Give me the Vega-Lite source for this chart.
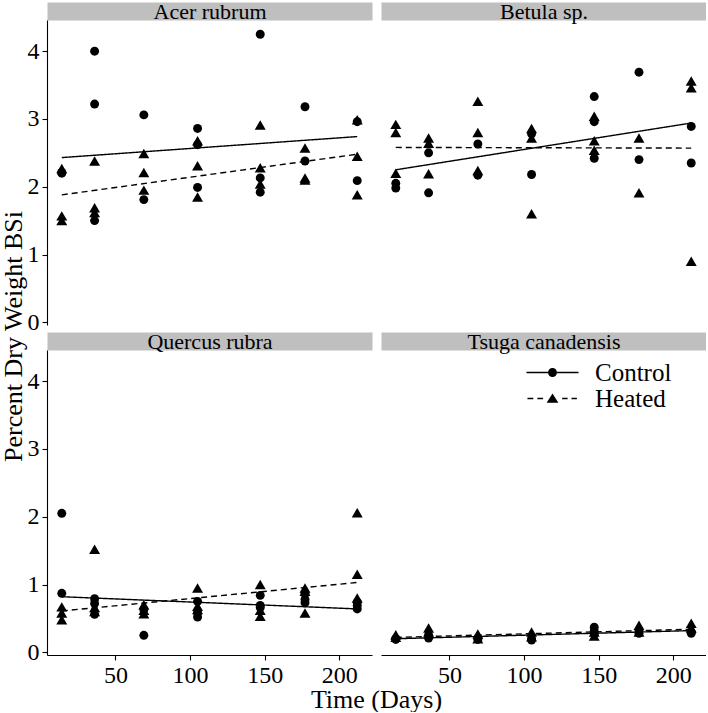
{
  "$schema": "https://vega.github.io/schema/vega-lite/v6.json",
  "background": "white",
  "padding": {"left": 0, "top": 0, "right": 0, "bottom": 0},
  "config": {
    "font": "Liberation Serif",
    "view": {"stroke": null},
    "axis": {
      "grid": false,
      "domainColor": "black",
      "domainWidth": 1.1,
      "tickColor": "black",
      "tickWidth": 1.1,
      "tickSize": 5,
      "labelColor": "black",
      "labelFont": "Liberation Serif",
      "labelFontSize": 24,
      "labelPadding": 3,
      "titleFont": "Liberation Serif",
      "titleFontWeight": "normal",
      "titleColor": "black"
    }
  },
  "datasets": {
    "fits": [
      {"species": "Acer rubrum", "treatment": "Control", "day": 14, "bsi": 2.43},
      {"species": "Acer rubrum", "treatment": "Control", "day": 212, "bsi": 2.74},
      {"species": "Acer rubrum", "treatment": "Heated", "day": 14, "bsi": 1.88},
      {"species": "Acer rubrum", "treatment": "Heated", "day": 212, "bsi": 2.48},
      {"species": "Betula sp.", "treatment": "Control", "day": 14, "bsi": 2.25},
      {"species": "Betula sp.", "treatment": "Control", "day": 212, "bsi": 2.94},
      {"species": "Betula sp.", "treatment": "Heated", "day": 14, "bsi": 2.58},
      {"species": "Betula sp.", "treatment": "Heated", "day": 212, "bsi": 2.57},
      {"species": "Quercus rubra", "treatment": "Control", "day": 14, "bsi": 0.82},
      {"species": "Quercus rubra", "treatment": "Control", "day": 212, "bsi": 0.64},
      {"species": "Quercus rubra", "treatment": "Heated", "day": 14, "bsi": 0.61},
      {"species": "Quercus rubra", "treatment": "Heated", "day": 212, "bsi": 1.03},
      {"species": "Tsuga canadensis", "treatment": "Control", "day": 14, "bsi": 0.2},
      {"species": "Tsuga canadensis", "treatment": "Control", "day": 212, "bsi": 0.32},
      {"species": "Tsuga canadensis", "treatment": "Heated", "day": 14, "bsi": 0.22},
      {"species": "Tsuga canadensis", "treatment": "Heated", "day": 212, "bsi": 0.34}
    ],
    "bsi": [
      {"species": "Acer rubrum", "day": 14, "treatment": "Control", "bsi": 2.21},
      {"species": "Acer rubrum", "day": 14, "treatment": "Control", "bsi": 2.2},
      {"species": "Acer rubrum", "day": 14, "treatment": "Heated", "bsi": 2.27},
      {"species": "Acer rubrum", "day": 14, "treatment": "Heated", "bsi": 1.57},
      {"species": "Acer rubrum", "day": 14, "treatment": "Heated", "bsi": 1.5},
      {"species": "Acer rubrum", "day": 36, "treatment": "Control", "bsi": 4.0},
      {"species": "Acer rubrum", "day": 36, "treatment": "Control", "bsi": 3.22},
      {"species": "Acer rubrum", "day": 36, "treatment": "Control", "bsi": 1.5},
      {"species": "Acer rubrum", "day": 36, "treatment": "Heated", "bsi": 2.38},
      {"species": "Acer rubrum", "day": 36, "treatment": "Heated", "bsi": 1.69},
      {"species": "Acer rubrum", "day": 36, "treatment": "Heated", "bsi": 1.62},
      {"species": "Acer rubrum", "day": 69, "treatment": "Control", "bsi": 3.06},
      {"species": "Acer rubrum", "day": 69, "treatment": "Control", "bsi": 1.81},
      {"species": "Acer rubrum", "day": 69, "treatment": "Heated", "bsi": 2.49},
      {"species": "Acer rubrum", "day": 69, "treatment": "Heated", "bsi": 2.21},
      {"species": "Acer rubrum", "day": 69, "treatment": "Heated", "bsi": 1.95},
      {"species": "Acer rubrum", "day": 105, "treatment": "Control", "bsi": 2.86},
      {"species": "Acer rubrum", "day": 105, "treatment": "Control", "bsi": 2.62},
      {"species": "Acer rubrum", "day": 105, "treatment": "Control", "bsi": 1.99},
      {"species": "Acer rubrum", "day": 105, "treatment": "Heated", "bsi": 2.68},
      {"species": "Acer rubrum", "day": 105, "treatment": "Heated", "bsi": 2.31},
      {"species": "Acer rubrum", "day": 105, "treatment": "Heated", "bsi": 1.85},
      {"species": "Acer rubrum", "day": 147, "treatment": "Control", "bsi": 4.25},
      {"species": "Acer rubrum", "day": 147, "treatment": "Control", "bsi": 2.13},
      {"species": "Acer rubrum", "day": 147, "treatment": "Control", "bsi": 1.92},
      {"species": "Acer rubrum", "day": 147, "treatment": "Heated", "bsi": 2.91},
      {"species": "Acer rubrum", "day": 147, "treatment": "Heated", "bsi": 2.28},
      {"species": "Acer rubrum", "day": 147, "treatment": "Heated", "bsi": 2.04},
      {"species": "Acer rubrum", "day": 177, "treatment": "Control", "bsi": 3.18},
      {"species": "Acer rubrum", "day": 177, "treatment": "Control", "bsi": 2.38},
      {"species": "Acer rubrum", "day": 177, "treatment": "Heated", "bsi": 2.57},
      {"species": "Acer rubrum", "day": 177, "treatment": "Heated", "bsi": 2.13},
      {"species": "Acer rubrum", "day": 177, "treatment": "Heated", "bsi": 2.1},
      {"species": "Acer rubrum", "day": 212, "treatment": "Control", "bsi": 2.96},
      {"species": "Acer rubrum", "day": 212, "treatment": "Control", "bsi": 2.09},
      {"species": "Acer rubrum", "day": 212, "treatment": "Heated", "bsi": 2.99},
      {"species": "Acer rubrum", "day": 212, "treatment": "Heated", "bsi": 2.45},
      {"species": "Acer rubrum", "day": 212, "treatment": "Heated", "bsi": 1.88},

      {"species": "Betula sp.", "day": 14, "treatment": "Control", "bsi": 2.05},
      {"species": "Betula sp.", "day": 14, "treatment": "Control", "bsi": 1.98},
      {"species": "Betula sp.", "day": 14, "treatment": "Heated", "bsi": 2.92},
      {"species": "Betula sp.", "day": 14, "treatment": "Heated", "bsi": 2.8},
      {"species": "Betula sp.", "day": 14, "treatment": "Heated", "bsi": 2.2},
      {"species": "Betula sp.", "day": 36, "treatment": "Control", "bsi": 2.5},
      {"species": "Betula sp.", "day": 36, "treatment": "Control", "bsi": 1.91},
      {"species": "Betula sp.", "day": 36, "treatment": "Heated", "bsi": 2.72},
      {"species": "Betula sp.", "day": 36, "treatment": "Heated", "bsi": 2.64},
      {"species": "Betula sp.", "day": 36, "treatment": "Heated", "bsi": 2.19},
      {"species": "Betula sp.", "day": 69, "treatment": "Control", "bsi": 2.63},
      {"species": "Betula sp.", "day": 69, "treatment": "Control", "bsi": 2.17},
      {"species": "Betula sp.", "day": 69, "treatment": "Heated", "bsi": 3.26},
      {"species": "Betula sp.", "day": 69, "treatment": "Heated", "bsi": 2.8},
      {"species": "Betula sp.", "day": 69, "treatment": "Heated", "bsi": 2.24},
      {"species": "Betula sp.", "day": 105, "treatment": "Control", "bsi": 2.78},
      {"species": "Betula sp.", "day": 105, "treatment": "Control", "bsi": 2.18},
      {"species": "Betula sp.", "day": 105, "treatment": "Heated", "bsi": 2.86},
      {"species": "Betula sp.", "day": 105, "treatment": "Heated", "bsi": 2.72},
      {"species": "Betula sp.", "day": 105, "treatment": "Heated", "bsi": 1.6},
      {"species": "Betula sp.", "day": 147, "treatment": "Control", "bsi": 3.33},
      {"species": "Betula sp.", "day": 147, "treatment": "Control", "bsi": 2.96},
      {"species": "Betula sp.", "day": 147, "treatment": "Control", "bsi": 2.42},
      {"species": "Betula sp.", "day": 147, "treatment": "Heated", "bsi": 3.04},
      {"species": "Betula sp.", "day": 147, "treatment": "Heated", "bsi": 2.68},
      {"species": "Betula sp.", "day": 147, "treatment": "Heated", "bsi": 2.54},
      {"species": "Betula sp.", "day": 177, "treatment": "Control", "bsi": 3.69},
      {"species": "Betula sp.", "day": 177, "treatment": "Control", "bsi": 2.4},
      {"species": "Betula sp.", "day": 177, "treatment": "Heated", "bsi": 2.72},
      {"species": "Betula sp.", "day": 177, "treatment": "Heated", "bsi": 1.91},
      {"species": "Betula sp.", "day": 212, "treatment": "Control", "bsi": 2.89},
      {"species": "Betula sp.", "day": 212, "treatment": "Control", "bsi": 2.35},
      {"species": "Betula sp.", "day": 212, "treatment": "Heated", "bsi": 3.56},
      {"species": "Betula sp.", "day": 212, "treatment": "Heated", "bsi": 3.46},
      {"species": "Betula sp.", "day": 212, "treatment": "Heated", "bsi": 0.9},

      {"species": "Quercus rubra", "day": 14, "treatment": "Control", "bsi": 2.05},
      {"species": "Quercus rubra", "day": 14, "treatment": "Control", "bsi": 0.87},
      {"species": "Quercus rubra", "day": 14, "treatment": "Heated", "bsi": 0.67},
      {"species": "Quercus rubra", "day": 14, "treatment": "Heated", "bsi": 0.58},
      {"species": "Quercus rubra", "day": 14, "treatment": "Heated", "bsi": 0.48},
      {"species": "Quercus rubra", "day": 36, "treatment": "Control", "bsi": 0.79},
      {"species": "Quercus rubra", "day": 36, "treatment": "Control", "bsi": 0.72},
      {"species": "Quercus rubra", "day": 36, "treatment": "Control", "bsi": 0.56},
      {"species": "Quercus rubra", "day": 36, "treatment": "Heated", "bsi": 1.52},
      {"species": "Quercus rubra", "day": 36, "treatment": "Heated", "bsi": 0.66},
      {"species": "Quercus rubra", "day": 36, "treatment": "Heated", "bsi": 0.6},
      {"species": "Quercus rubra", "day": 69, "treatment": "Control", "bsi": 0.63},
      {"species": "Quercus rubra", "day": 69, "treatment": "Control", "bsi": 0.25},
      {"species": "Quercus rubra", "day": 69, "treatment": "Heated", "bsi": 0.7},
      {"species": "Quercus rubra", "day": 69, "treatment": "Heated", "bsi": 0.62},
      {"species": "Quercus rubra", "day": 69, "treatment": "Heated", "bsi": 0.57},
      {"species": "Quercus rubra", "day": 105, "treatment": "Control", "bsi": 0.75},
      {"species": "Quercus rubra", "day": 105, "treatment": "Control", "bsi": 0.58},
      {"species": "Quercus rubra", "day": 105, "treatment": "Control", "bsi": 0.52},
      {"species": "Quercus rubra", "day": 105, "treatment": "Heated", "bsi": 0.95},
      {"species": "Quercus rubra", "day": 105, "treatment": "Heated", "bsi": 0.68},
      {"species": "Quercus rubra", "day": 105, "treatment": "Heated", "bsi": 0.63},
      {"species": "Quercus rubra", "day": 147, "treatment": "Control", "bsi": 0.84},
      {"species": "Quercus rubra", "day": 147, "treatment": "Control", "bsi": 0.69},
      {"species": "Quercus rubra", "day": 147, "treatment": "Control", "bsi": 0.66},
      {"species": "Quercus rubra", "day": 147, "treatment": "Heated", "bsi": 1.0},
      {"species": "Quercus rubra", "day": 147, "treatment": "Heated", "bsi": 0.62},
      {"species": "Quercus rubra", "day": 147, "treatment": "Heated", "bsi": 0.53},
      {"species": "Quercus rubra", "day": 177, "treatment": "Control", "bsi": 0.87},
      {"species": "Quercus rubra", "day": 177, "treatment": "Control", "bsi": 0.78},
      {"species": "Quercus rubra", "day": 177, "treatment": "Control", "bsi": 0.73},
      {"species": "Quercus rubra", "day": 177, "treatment": "Heated", "bsi": 0.95},
      {"species": "Quercus rubra", "day": 177, "treatment": "Heated", "bsi": 0.9},
      {"species": "Quercus rubra", "day": 177, "treatment": "Heated", "bsi": 0.58},
      {"species": "Quercus rubra", "day": 212, "treatment": "Control", "bsi": 0.74},
      {"species": "Quercus rubra", "day": 212, "treatment": "Control", "bsi": 0.69},
      {"species": "Quercus rubra", "day": 212, "treatment": "Control", "bsi": 0.64},
      {"species": "Quercus rubra", "day": 212, "treatment": "Heated", "bsi": 2.06},
      {"species": "Quercus rubra", "day": 212, "treatment": "Heated", "bsi": 1.15},
      {"species": "Quercus rubra", "day": 212, "treatment": "Heated", "bsi": 0.8},

      {"species": "Tsuga canadensis", "day": 14, "treatment": "Control", "bsi": 0.2},
      {"species": "Tsuga canadensis", "day": 14, "treatment": "Control", "bsi": 0.19},
      {"species": "Tsuga canadensis", "day": 14, "treatment": "Heated", "bsi": 0.26},
      {"species": "Tsuga canadensis", "day": 14, "treatment": "Heated", "bsi": 0.22},
      {"species": "Tsuga canadensis", "day": 36, "treatment": "Control", "bsi": 0.21},
      {"species": "Tsuga canadensis", "day": 36, "treatment": "Control", "bsi": 0.25},
      {"species": "Tsuga canadensis", "day": 36, "treatment": "Heated", "bsi": 0.36},
      {"species": "Tsuga canadensis", "day": 36, "treatment": "Heated", "bsi": 0.3},
      {"species": "Tsuga canadensis", "day": 69, "treatment": "Control", "bsi": 0.21},
      {"species": "Tsuga canadensis", "day": 69, "treatment": "Control", "bsi": 0.19},
      {"species": "Tsuga canadensis", "day": 69, "treatment": "Heated", "bsi": 0.27},
      {"species": "Tsuga canadensis", "day": 69, "treatment": "Heated", "bsi": 0.2},
      {"species": "Tsuga canadensis", "day": 105, "treatment": "Control", "bsi": 0.2},
      {"species": "Tsuga canadensis", "day": 105, "treatment": "Control", "bsi": 0.18},
      {"species": "Tsuga canadensis", "day": 105, "treatment": "Heated", "bsi": 0.3},
      {"species": "Tsuga canadensis", "day": 105, "treatment": "Heated", "bsi": 0.23},
      {"species": "Tsuga canadensis", "day": 147, "treatment": "Control", "bsi": 0.37},
      {"species": "Tsuga canadensis", "day": 147, "treatment": "Control", "bsi": 0.31},
      {"species": "Tsuga canadensis", "day": 147, "treatment": "Control", "bsi": 0.27},
      {"species": "Tsuga canadensis", "day": 147, "treatment": "Heated", "bsi": 0.3},
      {"species": "Tsuga canadensis", "day": 147, "treatment": "Heated", "bsi": 0.24},
      {"species": "Tsuga canadensis", "day": 177, "treatment": "Control", "bsi": 0.32},
      {"species": "Tsuga canadensis", "day": 177, "treatment": "Control", "bsi": 0.28},
      {"species": "Tsuga canadensis", "day": 177, "treatment": "Heated", "bsi": 0.4},
      {"species": "Tsuga canadensis", "day": 177, "treatment": "Heated", "bsi": 0.3},
      {"species": "Tsuga canadensis", "day": 212, "treatment": "Control", "bsi": 0.3},
      {"species": "Tsuga canadensis", "day": 212, "treatment": "Control", "bsi": 0.28},
      {"species": "Tsuga canadensis", "day": 212, "treatment": "Heated", "bsi": 0.43},
      {"species": "Tsuga canadensis", "day": 212, "treatment": "Heated", "bsi": 0.36}
    ]
  },
  "columns": 2,
  "spacing": {"row": 25, "column": 9},
  "bounds": "flush",
  "concat": [
    {
      "width": 325, "height": 305,
      "resolve": {"axis": {"x": "independent"}},
      "layer": [
        {
          "data": {"name": "bsi"},
          "transform": [{"filter": "datum.species === 'Acer rubrum'"}],
          "mark": {"type": "point", "filled": true, "opacity": 1, "color": "black"},
          "encoding": {
            "x": {"field": "day", "type": "quantitative", "scale": {"domain": [4.1, 221.9], "nice": false, "zero": false}, "axis": null},
            "y": {"field": "bsi", "type": "quantitative", "scale": {"domain": [-0.04, 4.46], "nice": false, "zero": false},
                  "axis": {"values": [0, 1, 2, 3, 4], "format": "d", "title": "Percent Dry Weight BSi", "titleFontSize": 26, "titleBaseline": "alphabetic", "titleX": -26, "titleY": 316}},
            "shape": {"field": "treatment", "type": "nominal", "scale": {"domain": ["Control", "Heated"], "range": ["circle", "triangle-up"]}, "legend": null},
            "size": {"field": "treatment", "type": "ordinal", "scale": {"domain": ["Control", "Heated"], "range": [80, 120]}, "legend": null}
          }
        },
        {
          "data": {"name": "fits"},
          "transform": [{"filter": "datum.species === 'Acer rubrum'"}],
          "mark": {"type": "line", "color": "black", "strokeWidth": 1.4},
          "encoding": {
            "x": {"field": "day", "type": "quantitative",
                  "axis": {"orient": "top", "title": "Acer rubrum", "values": [100], "ticks": false, "labels": false, "domainColor": "#bfbfbf", "domainWidth": 18, "offset": 9, "titleFontSize": 22, "titleBaseline": "alphabetic", "titleY": 7.7}},
            "y": {"field": "bsi", "type": "quantitative"},
            "strokeDash": {"field": "treatment", "type": "nominal", "scale": {"domain": ["Control", "Heated"], "range": [[1, 0], [6, 4]]}, "legend": null}
          }
        }
      ]
    },
    {
      "width": 325, "height": 305,
      "resolve": {"axis": {"x": "independent"}},
      "layer": [
        {
          "data": {"name": "bsi"},
          "transform": [{"filter": "datum.species === 'Betula sp.'"}],
          "mark": {"type": "point", "filled": true, "opacity": 1, "color": "black"},
          "encoding": {
            "x": {"field": "day", "type": "quantitative", "scale": {"domain": [4.1, 221.9], "nice": false, "zero": false}, "axis": null},
            "y": {"field": "bsi", "type": "quantitative", "scale": {"domain": [-0.04, 4.46], "nice": false, "zero": false}, "axis": null},
            "shape": {"field": "treatment", "type": "nominal", "scale": {"domain": ["Control", "Heated"], "range": ["circle", "triangle-up"]}, "legend": null},
            "size": {"field": "treatment", "type": "ordinal", "scale": {"domain": ["Control", "Heated"], "range": [80, 120]}, "legend": null}
          }
        },
        {
          "data": {"name": "fits"},
          "transform": [{"filter": "datum.species === 'Betula sp.'"}],
          "mark": {"type": "line", "color": "black", "strokeWidth": 1.4},
          "encoding": {
            "x": {"field": "day", "type": "quantitative",
                  "axis": {"orient": "top", "title": "Betula sp.", "values": [100], "ticks": false, "labels": false, "domainColor": "#bfbfbf", "domainWidth": 18, "offset": 9, "titleFontSize": 22, "titleBaseline": "alphabetic", "titleY": 7.7}},
            "y": {"field": "bsi", "type": "quantitative"},
            "strokeDash": {"field": "treatment", "type": "nominal", "scale": {"domain": ["Control", "Heated"], "range": [[1, 0], [6, 4]]}, "legend": null}
          }
        }
      ]
    },
    {
      "width": 325, "height": 305,
      "resolve": {"axis": {"x": "independent"}},
      "layer": [
        {
          "data": {"name": "bsi"},
          "transform": [{"filter": "datum.species === 'Quercus rubra'"}],
          "mark": {"type": "point", "filled": true, "opacity": 1, "color": "black"},
          "encoding": {
            "x": {"field": "day", "type": "quantitative", "scale": {"domain": [4.1, 221.9], "nice": false, "zero": false},
                  "axis": {"values": [50, 100, 150, 200], "title": "Time (Days)", "titleFontSize": 26, "titleBaseline": "alphabetic", "titleX": 329, "titleY": 52}},
            "y": {"field": "bsi", "type": "quantitative", "scale": {"domain": [-0.04, 4.46], "nice": false, "zero": false}, "axis": {"values": [0, 1, 2, 3, 4], "format": "d", "title": null}},
            "shape": {"field": "treatment", "type": "nominal", "scale": {"domain": ["Control", "Heated"], "range": ["circle", "triangle-up"]}, "legend": null},
            "size": {"field": "treatment", "type": "ordinal", "scale": {"domain": ["Control", "Heated"], "range": [80, 120]}, "legend": null}
          }
        },
        {
          "data": {"name": "fits"},
          "transform": [{"filter": "datum.species === 'Quercus rubra'"}],
          "mark": {"type": "line", "color": "black", "strokeWidth": 1.4},
          "encoding": {
            "x": {"field": "day", "type": "quantitative",
                  "axis": {"orient": "top", "title": "Quercus rubra", "values": [100], "ticks": false, "labels": false, "domainColor": "#bfbfbf", "domainWidth": 18, "offset": 9, "titleFontSize": 22, "titleBaseline": "alphabetic", "titleY": 7.7}},
            "y": {"field": "bsi", "type": "quantitative"},
            "strokeDash": {"field": "treatment", "type": "nominal", "scale": {"domain": ["Control", "Heated"], "range": [[1, 0], [6, 4]]}, "legend": null}
          }
        }
      ]
    },
    {
      "width": 325, "height": 305,
      "resolve": {"axis": {"x": "independent"}, "scale": {"shape": "independent"}},
      "layer": [
        {
          "data": {"name": "bsi"},
          "transform": [{"filter": "datum.species === 'Tsuga canadensis'"}],
          "mark": {"type": "point", "filled": true, "opacity": 1, "color": "black"},
          "encoding": {
            "x": {"field": "day", "type": "quantitative", "scale": {"domain": [4.1, 221.9], "nice": false, "zero": false},
                  "axis": {"values": [50, 100, 150, 200], "title": null}},
            "y": {"field": "bsi", "type": "quantitative", "scale": {"domain": [-0.04, 4.46], "nice": false, "zero": false}, "axis": null},
            "shape": {"field": "treatment", "type": "nominal", "scale": {"domain": ["Control", "Heated"], "range": ["circle", "triangle-up"]}, "legend": null},
            "size": {"field": "treatment", "type": "ordinal", "scale": {"domain": ["Control", "Heated"], "range": [80, 120]}, "legend": null}
          }
        },
        {
          "data": {"name": "fits"},
          "transform": [{"filter": "datum.species === 'Tsuga canadensis'"}],
          "mark": {"type": "line", "color": "black", "strokeWidth": 1.4},
          "encoding": {
            "x": {"field": "day", "type": "quantitative",
                  "axis": {"orient": "top", "title": "Tsuga canadensis", "values": [100], "ticks": false, "labels": false, "domainColor": "#bfbfbf", "domainWidth": 18, "offset": 9, "titleFontSize": 22, "titleBaseline": "alphabetic", "titleY": 7.7}},
            "y": {"field": "bsi", "type": "quantitative"},
            "strokeDash": {"field": "treatment", "type": "nominal", "scale": {"domain": ["Control", "Heated"], "range": [[1, 0], [6, 4]]}, "legend": null}
          }
        },
        {
          "data": {"name": "fits"},
          "transform": [{"filter": "datum.species === 'Tsuga canadensis' && datum.day === 14"}],
          "mark": {"type": "point", "filled": true, "opacity": 0, "color": "black"},
          "encoding": {
            "shape": {
              "field": "treatment",
              "type": "nominal",
              "scale": {
                "domain": ["Control", "Heated"],
                "range": [
                  "M-2.6,-0.07H-0.45V0.07H-2.6ZM0.45,-0.07H2.6V0.07H0.45ZM0.45,0A0.45,0.45,0,1,1,-0.45,0A0.45,0.45,0,1,1,0.45,0Z",
                  "M-2.5,-0.07H-1.92V0.07H-2.5ZM-1.51,-0.07H-0.94V0.07H-1.51ZM0.96,-0.07H1.51V0.07H0.96ZM1.9,-0.07H2.44V0.07H1.9ZM0,-0.49L0.585,0.42L-0.585,0.42Z"
                ]
              },
              "legend": {
                "title": null,
                "orient": "none",
                "legendX": 159,
                "legendY": 10,
                "symbolSize": 400,
                "symbolFillColor": "black",
                "symbolOpacity": 1,
                "labelFont": "Liberation Serif",
                "labelFontSize": 25,
                "labelColor": "black",
                "labelOffset": 30,
                "rowPadding": -16,
                "encode": {
                  "symbols": {
                    "fill": {"value": "black"},
                    "opacity": {"value": 1}
                  }
                }
              }
            }
          }
        }
      ]
    }
  ]
}
